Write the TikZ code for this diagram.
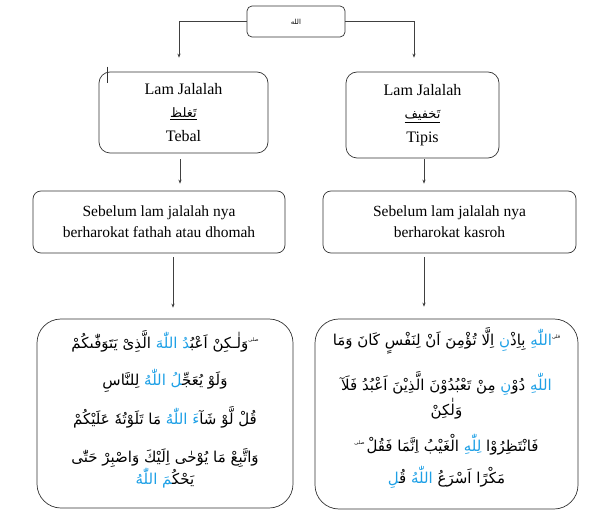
\documentclass[tikz,border=0pt]{standalone}
\usepackage{fontspec}
\setmainfont{Liberation Serif}
\newfontfamily\arabicfont[Script=Arabic]{DejaVu Sans}
\newfontfamily\arabicblue[Script=Arabic,Color=1EA0E6]{DejaVu Sans}
\TeXXeTstate=1
\usetikzlibrary{arrows.meta, positioning}
\newcommand{\jal}[1]{{\arabicblue #1}}
\newcommand{\waqf}[1]{\raisebox{7pt}{\fontsize{5}{5}\selectfont #1}}

\begin{document}
\begin{tikzpicture}[x=1pt,y=-1pt,
    box/.style={draw=black!80, line width=0.7pt, rounded corners=9pt, align=center, inner sep=0pt},
    lam/.style={box, rounded corners=11pt, font=\fontsize{16}{23.5}\selectfont},
    mid/.style={box, rounded corners=8pt, font=\fontsize{15.5}{21}\selectfont},
    ayat/.style={box, rounded corners=24pt},
    ayattext/.style={align=center, inner sep=0pt, font=\arabicfont\fontsize{15}{22}\selectfont},
    arr/.style={draw=black!75, line width=0.6pt, -{Stealth[length=4pt,width=3.2pt]}}]
    \useasboundingbox (0,0) rectangle (591,518);

    \node[box, rounded corners=5pt, minimum width=98pt, minimum height=31pt] (allah) at (296,21.5) {\arabicfont\fontsize{7}{8}\selectfont الله};
    \node[lam, minimum width=169pt, minimum height=81pt] (tebal) at (183.5,112.5) {Lam Jalalah\\ {\arabicfont\fontsize{13}{14}\selectfont\underline{تَغلظ}}\\ Tebal};
    \node[lam, minimum width=153pt, minimum height=86pt] (tipis) at (422.5,115) {Lam Jalalah\\ {\arabicfont\fontsize{13}{14}\selectfont\underline{تَخفيف}}\\ Tipis};
    \node[mid, minimum width=252pt, minimum height=62pt] (fathah) at (159,222) {Sebelum lam jalalah nya\\ berharokat fathah atau dhomah};
    \node[mid, minimum width=253pt, minimum height=62pt] (kasroh) at (449.5,222) {Sebelum lam jalalah nya\\ berharokat kasroh};

    \node[ayat, minimum width=256pt, minimum height=189pt] (ayatTebal) at (165,413.5) {};
    \node[ayat, minimum width=263pt, minimum height=190pt] (ayatTipis) at (446.5,414) {};

    % contoh tafkhim
    \node[ayattext] (teksTebal) at ([yshift=4pt]ayatTebal.center) {%
        \beginR\waqf{صلى}وَلٰـكِنْ اَعْبُ‍\jal{‍دُ اللّٰهَ} الَّذِىْ يَتَوَفّٰىكُمْ\endR\\[15pt]
        \beginR وَلَوْ يُعَجِّ‍\jal{‍لُ اللّٰهُ} لِلنَّاسِ\endR\\[13pt]
        \beginR قُلْ لَّوْ شَآ\jal{ءَ اللّٰهُ} مَا تَلَوْتُهٗ عَلَيْكُمْ\endR\\[16pt]
        \beginR وَاتَّبِعْ مَا يُوْحٰى اِلَيْكَ وَاصْبِرْ حَتّٰى\endR\\
        \beginR يَحْكُ‍\jal{‍مَ اللّٰهُ}\endR};
    % contoh tarqiq
    \node[ayattext] (teksTipis) at ([yshift=6pt]ayatTipis.center) {%
        وَمَا كَانَ لِنَفْسٍ اَنْ تُؤْمِنَ اِلَّا \beginR بِاِذْ\jal{نِ}\endR\ \jal{اللّٰهِ}\waqf{قلى}\\[17pt]
        فَلَآ اَعْبُدُ الَّذِيْنَ تَعْبُدُوْنَ مِنْ \beginR دُوْ\jal{نِ}\endR\ \jal{اللّٰهِ}\\[3pt]
        وَلٰكِنْ\\[14pt]
        \waqf{صلى}\kern2pt فَقُلْ اِنَّمَا الْغَيْبُ \jal{لِلّٰهِ} فَانْتَظِرُوْا\\[10pt]
        \beginR قُ‍\jal{‍لِ}\endR\ \jal{اللّٰهُ} اَسْرَعُ مَكْرًا};

    \draw[line width=1.3pt, black!80] ([xshift=9pt,yshift=5pt]tebal.north west) -- ([xshift=9pt,yshift=-11pt]tebal.north west);

    \draw[arr] (allah.west) -| ([xshift=-4.5pt,yshift=14pt]tebal.north);
    \draw[arr] (allah.east) -| ([xshift=-8.5pt,yshift=14pt]tipis.north);
    \draw[arr, shorten <=6pt, shorten >=7pt] ([xshift=-3.5pt]tebal.south) -- ([xshift=-3.5pt]tebal.south |- fathah.north);
    \draw[arr, shorten <=1pt, shorten >=7pt] ([xshift=1.5pt]tipis.south) -- ([xshift=1.5pt]tipis.south |- kasroh.north);
    \draw[arr, shorten <=4pt, shorten >=11pt] ([xshift=14pt]fathah.south) -- ([xshift=14pt]fathah.south |- ayatTebal.north);
    \draw[arr, shorten <=4pt, shorten >=12pt] ([xshift=-25.5pt]kasroh.south) -- ([xshift=-25.5pt]kasroh.south |- ayatTipis.north);
\end{tikzpicture}
\end{document}
